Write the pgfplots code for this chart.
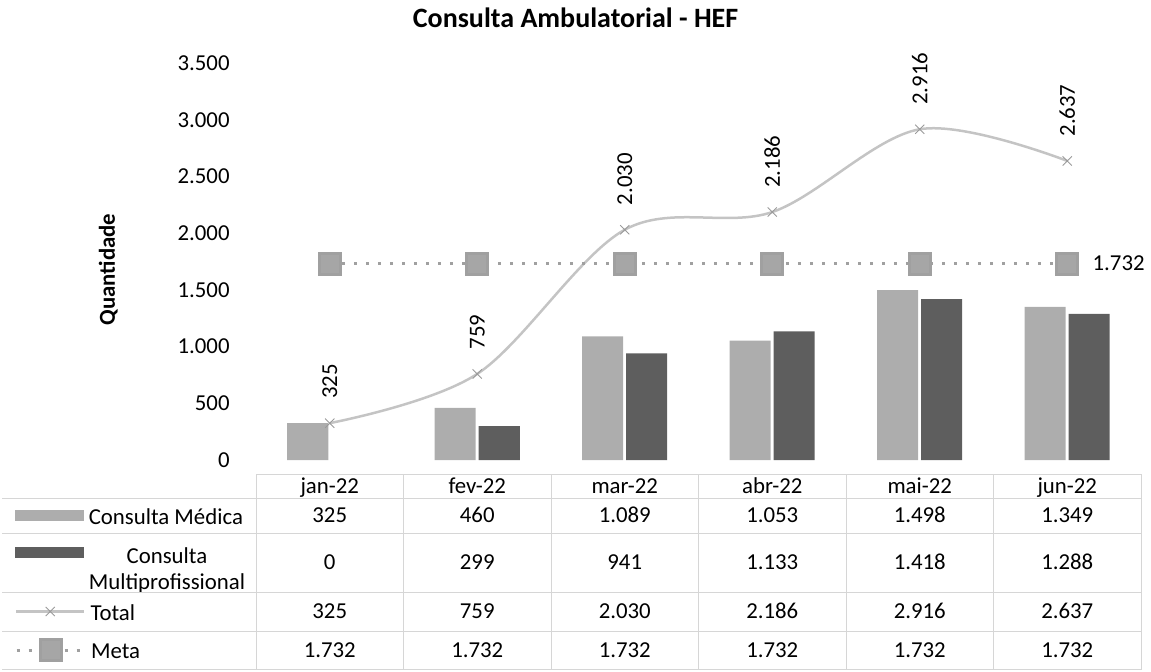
\documentclass[border=0pt]{standalone}
\usepackage{pgfplots}
\pgfplotsset{compat=1.18}
\usepackage{pgfplotstable}
\usepackage{fontspec}
\setmainfont{Carlito}

\definecolor{medica}{HTML}{ADADAD}
\definecolor{multi}{HTML}{5E5E5E}
\definecolor{totline}{HTML}{C4C4C4}
\definecolor{totmark}{HTML}{9A9A9A}
\definecolor{metaline}{HTML}{A0A0A0}
\definecolor{metasq}{HTML}{A6A6A6}
\definecolor{gridc}{HTML}{D6D6D6}

\newcommand\fsz{\fontsize{11.4}{13.7}\selectfont}

\pgfplotsset{
  widelegend/.style={legend image code/.code={\draw[mark repeat=2, mark phase=2, ##1]
    plot coordinates {(0pt,0pt) (17pt,0pt) (34pt,0pt)};}},
  medicalegend/.style={legend image code/.code={\fill[medica] (0pt,-2.5pt) rectangle (34pt,2.5pt);}},
  multilegend/.style={legend image code/.code={\fill[multi] (0pt,-2.5pt) rectangle (34pt,2.5pt);}},
  totstyle/.style={smooth, tension=0.55, draw=totline, line width=1.25pt,
    mark=x, mark size=3.25pt, mark options={draw=totmark, line width=0.45pt}},
  metastyle/.style={draw=metaline, line width=1.5pt, dash pattern=on 1.5pt off 4.5pt,
    mark=square*, mark size=5.25pt, mark options={solid, fill=metasq, draw=none}},
  % eixo vazio so para uma linha da legenda da tabela
  keyaxis/.style={at={(128pt,105.5pt)}, anchor=south west, scale only axis,
    width=442.5pt, height=198.5pt, xmin=0, xmax=1, ymin=0, ymax=1, hide axis,
    legend style={at={(axis description cs:-0.2723,#1)}, anchor=west,
      draw=none, fill=none, inner sep=0pt, outer sep=0pt, column sep=2.5pt,
      font=\fsz, nodes={inner sep=0pt, outer sep=0pt}},
    legend cell align=left},
}

% mes: 0=jan-22 ... 5=jun-22
\pgfplotstableread{
x medica multi total meta
0 325  0    325  1732
1 460  299  759  1732
2 1089 941  2030 1732
3 1053 1133 2186 1732
4 1498 1418 2916 1732
5 1349 1288 2637 1732
}\hefdata

\begin{document}
\begin{tikzpicture}
\useasboundingbox (0,0) rectangle (575.5pt,335.5pt);
\begin{axis}[
  at={(128pt,105.5pt)}, anchor=south west,
  scale only axis, width=442.5pt, height=198.5pt,
  xmin=-0.5, xmax=5.5, ymin=0, ymax=3500,
  clip=false,
  axis line style={draw=none},
  major tick length=0pt,
  xtick=\empty,
  ytick={0,500,...,3500},
  tick label style={font=\fsz},
  yticklabel style={inner sep=0pt, xshift=-13pt},
  /pgf/number format/1000 sep={.},
  /pgf/number format/assume math mode=true,
  ylabel={Quantidade},
  ylabel style={font=\bfseries\fsz, at={(axis description cs:-0.167,0.48)}, anchor=center},
]
\addplot[ybar, bar width=20.5pt, bar shift=-11pt, fill=medica, draw=none]
  table[x=x, y=medica]{\hefdata};
\addplot[ybar, bar width=20.5pt, bar shift=11pt, fill=multi, draw=none,
  restrict y to domain=0.5:5000]
  table[x=x, y=multi]{\hefdata};
\addplot[totstyle, nodes near coords,
  nodes near coords style={font=\fsz, text=black, rotate=90, anchor=west,
    inner xsep=12pt, inner ysep=0pt}]
  table[x=x, y=total]{\hefdata};
\addplot[metastyle] table[x=x, y=meta]{\hefdata};
\node[font=\fsz, anchor=west, inner sep=0pt, xshift=12.5pt] at (axis cs:5,1732) {1.732};
\end{axis}

% chaves da tabela de dados
\begin{axis}[keyaxis=-0.1398]
\addlegendimage{medicalegend}
\addlegendentry{\rule[-3pt]{0pt}{13pt}Consulta Médica}
\end{axis}
\begin{axis}[keyaxis=-0.2317]
\addlegendimage{multilegend}
\addlegendentry{\fontsize{11.4}{13}\selectfont\begin{tabular}[t]{@{}c@{}}\rule{0pt}{13.5pt}Consulta\\Multiprofissional\end{tabular}}
\end{axis}
\begin{axis}[keyaxis=-0.3816]
\addlegendimage{totstyle, widelegend}
\addlegendentry{\rule[-3pt]{0pt}{13pt}Total}
\end{axis}
\begin{axis}[keyaxis=-0.4786]
\addlegendimage{metastyle, widelegend}
\addlegendentry{\rule[-3pt]{0pt}{13pt}Meta}
\end{axis}

% grade e textos da tabela (coordenadas em pixels da imagem)
\begin{scope}[x=0.5pt, y=-0.5pt, shift={(0pt,335.5pt)}]
  \node[font=\bfseries\fontsize{14}{17}\selectfont] at (575.5,18) {Consulta Ambulatorial - HEF};
  \draw[gridc, line width=0.5pt] (256,474) -- (1142,474);
  \foreach \yy in {498,533,592,631,669}
    \draw[gridc, line width=0.5pt] (2,\yy) -- (1142,\yy);
  \foreach \i in {0,...,6}
    \draw[gridc, line width=0.5pt] ({256+147.5*\i},474) -- ({256+147.5*\i},669);
  \foreach \m [count=\i from 0] in {jan-22,fev-22,mar-22,abr-22,mai-22,jun-22}
    \node[font=\fsz, anchor=base, inner sep=0pt] at ({329.75+147.5*\i},493) {\m};
  \foreach \v [count=\i from 0] in {325,460,1.089,1.053,1.498,1.349}
    \node[font=\fsz, anchor=base, inner sep=0pt] at ({329.75+147.5*\i},522.5) {\v};
  \foreach \v [count=\i from 0] in {0,299,941,1.133,1.418,1.288}
    \node[font=\fsz, anchor=base, inner sep=0pt] at ({329.75+147.5*\i},569.5) {\v};
  \foreach \v [count=\i from 0] in {325,759,2.030,2.186,2.916,2.637}
    \node[font=\fsz, anchor=base, inner sep=0pt] at ({329.75+147.5*\i},618.5) {\v};
  \foreach \v [count=\i from 0] in {1.732,1.732,1.732,1.732,1.732,1.732}
    \node[font=\fsz, anchor=base, inner sep=0pt] at ({329.75+147.5*\i},657) {\v};
\end{scope}
\end{tikzpicture}
\end{document}
